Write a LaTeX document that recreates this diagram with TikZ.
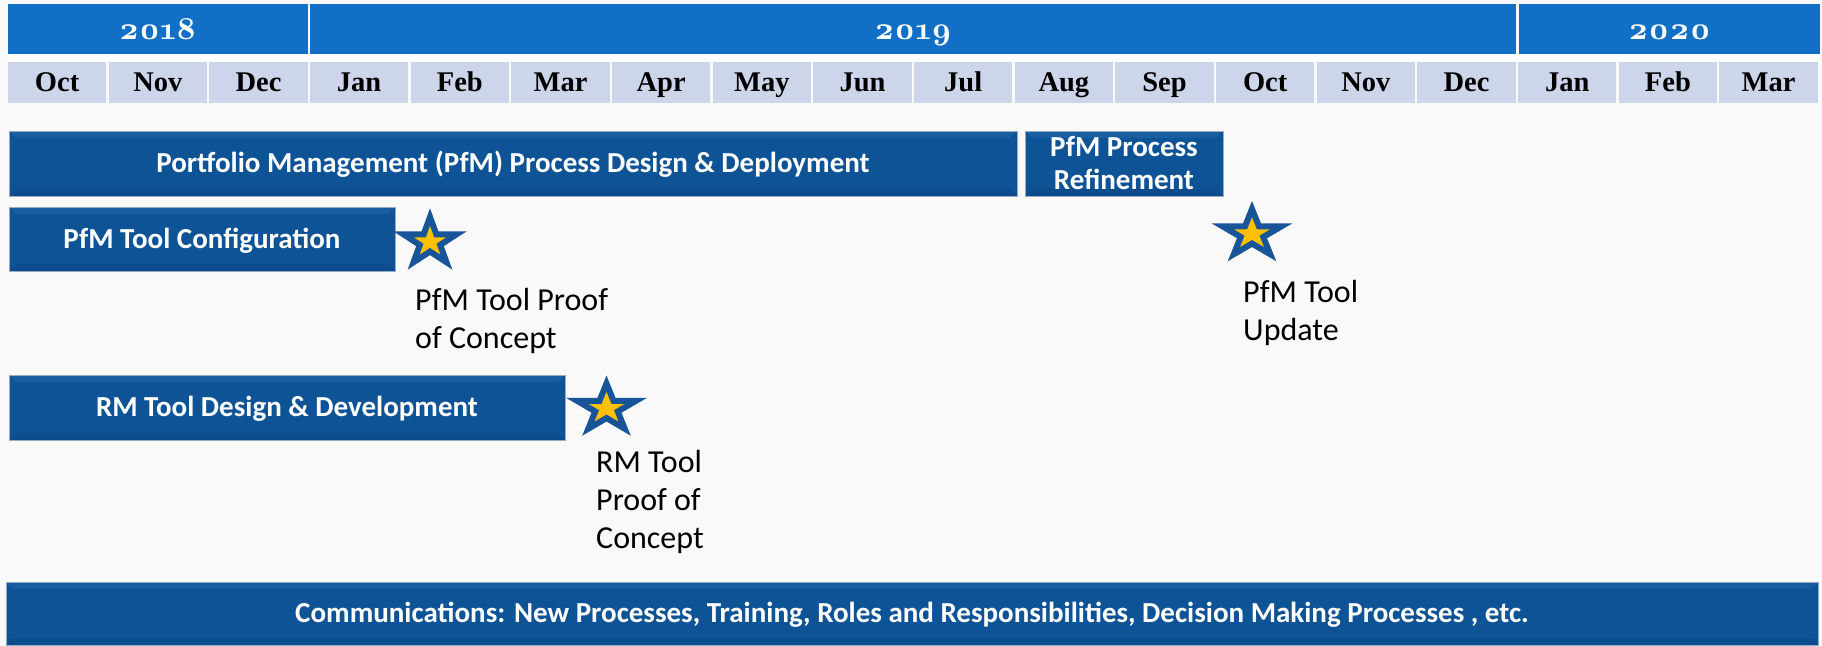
\documentclass[tikz,border=0pt]{standalone}
\usepackage{fontspec}
\setmainfont{Carlito}
\newfontfamily\monthfont{Liberation Serif}
\newfontfamily\yearfont{lmroman10-bold.otf}[Numbers=OldStyle]
\usetikzlibrary{calc}
\definecolor{yearblue}{RGB}{17,112,197}
\definecolor{monthfill}{RGB}{205,213,234}
\definecolor{barblue}{RGB}{15,83,151}
\definecolor{barlight}{RGB}{24,94,163}
\definecolor{bardark}{RGB}{12,76,141}
\definecolor{barborder}{RGB}{150,170,196}
\definecolor{starblue}{RGB}{24,84,152}
\definecolor{stargold}{RGB}{255,192,0}
\definecolor{pagebg}{RGB}{249,249,249}
\newcommand\drawstar[2]{%
  \begin{scope}[shift={(#1)}, xscale=#2]
    \draw[starsty] (270:25) -- (306:9.55) -- (342:25) -- (18:9.55) -- (54:25)
      -- (90:9.55) -- (126:25) -- (162:9.55) -- (198:25) -- (234:9.55) -- cycle;
  \end{scope}}
\newcommand\linesleft[1]{\vtop{\halign{##\hfil\cr#1\crcr}}}
\newcommand\linescenter[1]{\vtop{\halign{\hfil##\hfil\cr#1\crcr}}}
\begin{document}
\begin{tikzpicture}[x=1pt,y=-1pt,
  yearcell/.style={fill=yearblue, inner sep=0pt, minimum height=50pt, text=white,
    font=\yearfont\fontsize{32}{34}\selectfont, text height=21pt, text depth=0pt},
  monthcell/.style={fill=monthfill, inner sep=0pt, minimum width=98.3pt, minimum height=41pt,
    font=\monthfont\bfseries\fontsize{28.5}{30}\selectfont, text height=18.9pt, text depth=0pt},
  bar/.style={fill=barblue, draw=barborder, line width=0.8pt, inner sep=0pt, text=white,
    font=\bfseries\fontsize{29}{33}\selectfont, text height=18.7pt, text depth=0pt,
    path picture={
      \fill[barlight] (path picture bounding box.north west) -- (path picture bounding box.north east)
        -- ([shift={(-7pt,-7pt)}]path picture bounding box.north east)
        -- ([shift={(7pt,-7pt)}]path picture bounding box.north west) -- cycle;
      \fill[bardark] (path picture bounding box.south west) -- (path picture bounding box.south east)
        -- ([shift={(-7pt,7pt)}]path picture bounding box.south east)
        -- ([shift={(7pt,7pt)}]path picture bounding box.south west) -- cycle;
    }},
  starsty/.style={draw=starblue, fill=stargold, line width=6pt, line join=miter, miter limit=10},
  lbl/.style={anchor=north west, inner sep=0pt,
    font=\fontsize{32}{37.7}\selectfont, text height=20.6pt}
]
\useasboundingbox (0,0) rectangle (1822,645);
\fill[pagebg] (0,0) rectangle (1822,645);
\fill[white] (8,54) rectangle (1820,62);

% years
\node[yearcell, minimum width=299.6pt] (y2018) at (157.8,29) {2018};
\node[yearcell, minimum width=1206pt] (y2019) at (913,29) {2019};
\node[yearcell, minimum width=301.3pt] (y2020) at (1669.4,29) {2020};

% months
\foreach \i/\m in {0/Oct,1/Nov,2/Dec,3/Jan,4/Feb,5/Mar,6/Apr,7/May,8/Jun,9/Jul,10/Aug,11/Sep,12/Oct,13/Nov,14/Dec,15/Jan,16/Feb,17/Mar}{
  \node[monthcell] (m\i) at ({8+\i*100.67+49.15},82.5) {\m};
}

% bars
\node[bar, minimum width=1008pt, minimum height=65pt] (pfm) at (513,163.5)
  {Portfolio Management (PfM) Process Design \& Deployment};
\node[bar, minimum width=198pt, minimum height=65pt, text depth=33pt] (ref) at (1124,163.5)
  {\linescenter{PfM Process\cr Refinement}};
\node[bar, minimum width=386pt, minimum height=64pt] (cfg) at (202,239)
  {PfM Tool Configuration};
\node[bar, minimum width=556pt, minimum height=65pt] (rm) at (287,407.5)
  {RM Tool Design \& Development};
\node[bar, minimum width=1812pt, minimum height=63pt] (comm) at (912,613.5)
  {Communications: New Processes, Training, Roles and Responsibilities, Decision Making Processes , etc.};

% stars
\coordinate (s1) at (430,242);
\coordinate (s2) at (1252,234);
\coordinate (s3) at (606.5,408.5);
\drawstar{s1}{1.12}
\drawstar{s2}{1.24}
\drawstar{s3}{1.24}

% milestone labels
\node[lbl] (l1) at (415,290) {\linesleft{PfM Tool Proof\cr of Concept}};
\node[lbl] (l2) at (1243,282) {\linesleft{PfM Tool\cr Update}};
\node[lbl] (l3) at (596,452) {\linesleft{RM Tool\cr Proof of\cr Concept}};
\end{tikzpicture}
\end{document}
